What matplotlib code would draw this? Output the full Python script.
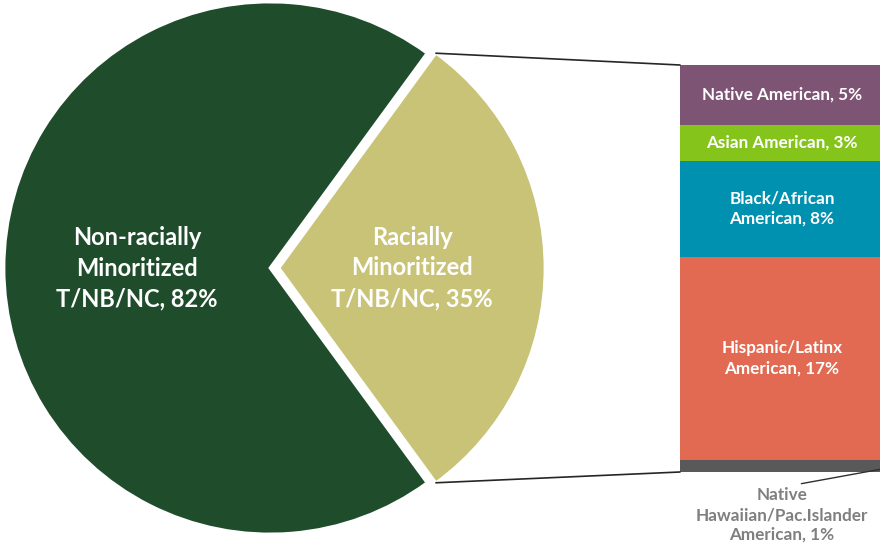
import numpy as np
import matplotlib
matplotlib.use("Agg")
import matplotlib.pyplot as plt
from matplotlib.patches import ConnectionPatch

# Main split
pie_labels = ["Non-racially\nMinoritized\nT/NB/NC, 82%", "Racially\nMinoritized\nT/NB/NC, 35%"]
pie_values = [82, 35]
pie_colors = ["#1F4D2C", "#C9C377"]

# Breakdown of the racially minoritized group (bottom to top)
bar_labels = ["Native\nHawaiian/Pac.Islander\nAmerican, 1%",
              "Hispanic/Latinx\nAmerican, 17%",
              "Black/African\nAmerican, 8%",
              "Asian American, 3%",
              "Native American, 5%"]
bar_values = [1, 17, 8, 3, 5]
bar_colors = ["#595959", "#E26A52", "#0091B1", "#84C41B", "#7E5474"]

plt.rcParams["font.family"] = ["Lato", "DejaVu Sans"]

W, H = 880, 548
fig = plt.figure(figsize=(W / 100, H / 100), dpi=100)
fig.patch.set_facecolor("white")

# Pie on a pixel-scaled canvas
ax = fig.add_axes([0, 0, 1, 1])
center = (270, 280)
radius = 266
share = pie_values[1] / sum(pie_values)
start = share * 180
wedges, _ = ax.pie(pie_values, colors=pie_colors, startangle=start,
                   explode=[0, 9], center=center, radius=radius,
                   frame=True, counterclock=True,
                   wedgeprops=dict(edgecolor="white", linewidth=2))
ax.set_xlim(0, W)
ax.set_ylim(0, H)
ax.set_aspect("equal")
ax.axis("off")
for w in wedges:
    w.set_clip_on(False)

for w, lab in zip(wedges, pie_labels):
    mid = np.deg2rad((w.theta1 + w.theta2) / 2)
    cx, cy = w.center
    ax.text(cx + 0.5 * w.r * np.cos(mid), cy + 0.5 * w.r * np.sin(mid), lab,
            ha="center", va="center", color="white", fontsize=17,
            fontweight="bold", linespacing=1.4)

# Stacked bar
bax = fig.add_axes([680 / W, (H - 472) / H, 204 / W, 407 / H])
bax.set_xlim(-0.5, 0.5)
bax.set_ylim(0, sum(bar_values))
bax.axis("off")
bottoms = np.concatenate([[0], np.cumsum(bar_values)[:-1]])
bax.bar(0, bar_values, width=1, bottom=bottoms, color=bar_colors,
        edgecolor="none", clip_on=False)
for lab, v, b in zip(bar_labels[1:], bar_values[1:], bottoms[1:]):
    bax.text(0, b + v / 2, lab, ha="center", va="center", color="white",
             fontsize=12.3, fontweight="bold", linespacing=1.3)

bax.annotate(bar_labels[0], xy=(0.57, bottoms[0] + bar_values[0] / 2),
             xytext=(0, -3.6), textcoords="data",
             ha="center", va="center", color="#7F7F7F", fontsize=12.3,
             fontweight="bold", linespacing=1.3, annotation_clip=False,
             arrowprops=dict(arrowstyle="-", color="#303030", lw=1,
                             shrinkA=3, shrinkB=0, relpos=(0.5, 1.0)))

# Lines joining the exploded wedge to the bar
rw = wedges[1]
cx, cy = rw.center
for ang, corner in [(rw.theta2, (-0.5, sum(bar_values))), (rw.theta1, (-0.5, 0))]:
    a = np.deg2rad(ang)
    p = (cx + rw.r * np.cos(a), cy + rw.r * np.sin(a))
    con = ConnectionPatch(xyA=p, coordsA=ax.transData, xyB=corner,
                          coordsB=bax.transData, color="#262626", lw=1.2)
    fig.add_artist(con)

fig.savefig("out.png", dpi=100, facecolor="white")
